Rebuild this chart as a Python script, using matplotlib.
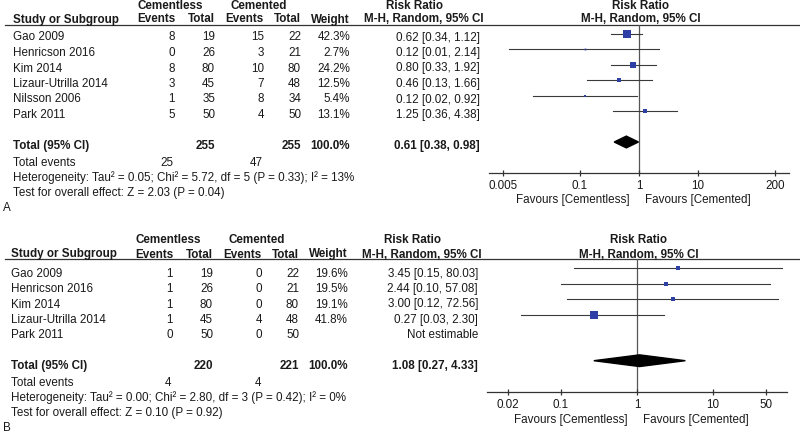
import matplotlib
matplotlib.use("Agg")
import matplotlib.pyplot as plt
import numpy as np

plt.rcParams['font.family'] = ['Liberation Sans', 'DejaVu Sans']

# ---------------- data: panel A ----------------
studies_A = ["Gao 2009", "Henricson 2016", "Kim 2014", "Lizaur-Utrilla 2014", "Nilsson 2006", "Park 2011"]
ev_cl_A = [8, 0, 8, 3, 1, 5]
tot_cl_A = [19, 26, 80, 45, 35, 50]
ev_cm_A = [15, 3, 10, 7, 8, 4]
tot_cm_A = [22, 21, 80, 48, 34, 50]
weight_A = [42.3, 2.7, 24.2, 12.5, 5.4, 13.1]
rr_A = [0.62, 0.12, 0.80, 0.46, 0.12, 1.25]
lo_A = [0.34, 0.0063, 0.33, 0.13, 0.016, 0.36]
hi_A = [1.12, 2.14, 1.92, 1.66, 0.92, 4.38]
rr_text_A = ["0.62 [0.34, 1.12]", "0.12 [0.01, 2.14]", "0.80 [0.33, 1.92]",
             "0.46 [0.13, 1.66]", "0.12 [0.02, 0.92]", "1.25 [0.36, 4.38]"]
total_A = dict(n_cl=255, n_cm=255, ev_cl=25, ev_cm=47, rr=0.61, lo=0.38, hi=0.98,
               text="0.61 [0.38, 0.98]",
               het="Heterogeneity: Tau\u00b2 = 0.05; Chi\u00b2 = 5.72, df = 5 (P = 0.33); I\u00b2 = 13%",
               test="Test for overall effect: Z = 2.03 (P = 0.04)")
ticks_A = [0.005, 0.1, 1, 10, 200]
ticklabels_A = ["0.005", "0.1", "1", "10", "200"]

# ---------------- data: panel B ----------------
studies_B = ["Gao 2009", "Henricson 2016", "Kim 2014", "Lizaur-Utrilla 2014", "Park 2011"]
ev_cl_B = [1, 1, 1, 1, 0]
tot_cl_B = [19, 26, 80, 45, 50]
ev_cm_B = [0, 0, 0, 4, 0]
tot_cm_B = [22, 21, 80, 48, 50]
weight_B = [19.6, 19.5, 19.1, 41.8, None]
rr_B = [3.45, 2.44, 3.00, 0.27, None]
lo_B = [0.15, 0.10, 0.12, 0.03, None]
hi_B = [80.03, 57.08, 72.56, 2.30, None]
rr_text_B = ["3.45 [0.15, 80.03]", "2.44 [0.10, 57.08]", "3.00 [0.12, 72.56]",
             "0.27 [0.03, 2.30]", "Not estimable"]
total_B = dict(n_cl=220, n_cm=221, ev_cl=4, ev_cm=4, rr=1.08, lo=0.27, hi=4.33,
               text="1.08 [0.27, 4.33]",
               het="Heterogeneity: Tau\u00b2 = 0.00; Chi\u00b2 = 2.80, df = 3 (P = 0.42); I\u00b2 = 0%",
               test="Test for overall effect: Z = 0.10 (P = 0.92)")
ticks_B = [0.02, 0.1, 1, 10, 50]
ticklabels_B = ["0.02", "0.1", "1", "10", "50"]

W, H = 800, 434
fig = plt.figure(figsize=(8, 4.34), dpi=100)
ov = fig.add_axes([0, 0, 1, 1])
ov.set_xlim(0, W)
ov.set_ylim(H, 0)
ov.axis('off')

TXT = '#1a1a1a'
FS = 8.35
BLUE = '#2E40A6'
LINE = '#3a3a3a'


def t(x, y, s, ha='left', bold=False):
    ov.text(x, y, s, ha=ha, va='baseline', fontsize=FS, color=TXT,
            fontweight='bold' if bold else 'normal')


def panel(studies, ev_cl, tot_cl, ev_cm, tot_cm, weight, rr, lo, hi, rr_text, total,
          ticks, ticklabels, letter, L):
    x0 = L['dx']
    hb1, hb2 = L['h1'], L['h2']
    t(170.7 + x0, hb1, "Cementless", ha='center', bold=True)
    t(258.5 + x0, hb1, "Cemented", ha='center', bold=True)
    t(415 + x0, hb1, "Risk Ratio", ha='center', bold=True)
    t(L['fc'], hb1, "Risk Ratio", ha='center', bold=True)
    t(L['sx'], hb2, "Study or Subgroup", bold=True)
    cols = [175 + x0, 215 + x0, 264 + x0, 301 + x0, 350 + x0]
    for cx, s in zip(cols, ["Events", "Total", "Events", "Total", "Weight"]):
        t(cx, hb2, s, ha='right', bold=True)
    t(424 + x0, hb2, "M-H, Random, 95% CI", ha='center', bold=True)
    t(L['fc'] + 1, hb2, "M-H, Random, 95% CI", ha='center', bold=True)
    ov.plot([5, 800], [L['ul'], L['ul']], color='#333333', lw=0.9)

    rrx = 480 + x0
    for i, name in enumerate(studies):
        yb = L['b0'] + L['sp'] * i
        t(L['sx'], yb, name)
        t(cols[0], yb, str(ev_cl[i]), ha='right')
        t(cols[1], yb, str(tot_cl[i]), ha='right')
        t(cols[2], yb, str(ev_cm[i]), ha='right')
        t(cols[3], yb, str(tot_cm[i]), ha='right')
        if weight[i] is not None:
            t(cols[4], yb, "%.1f%%" % weight[i], ha='right')
        t(rrx, yb, rr_text[i], ha='right')
    n = len(studies)
    yt = L['b0'] + L['sp'] * (n + 1)
    t(L['sx'], yt, "Total (95% CI)", bold=True)
    t(cols[1], yt, str(total['n_cl']), ha='right', bold=True)
    t(cols[3], yt, str(total['n_cm']), ha='right', bold=True)
    t(cols[4], yt, "100.0%", ha='right', bold=True)
    t(rrx, yt, total['text'], ha='right', bold=True)
    ye = yt + 16.5
    t(L['sx'], ye, "Total events")
    t(cols[0] - 2, ye, str(total['ev_cl']), ha='right')
    t(cols[2] - 1, ye, str(total['ev_cm']), ha='right')
    t(L['sx'], ye + 15.5, total['het'])
    t(L['sx'], ye + 30.5, total['test'])
    t(3, ye + 45.5, letter)

    fl, fr, ftop, fbot = L['fl'], L['fr'], L['ul'], L['axis']
    ax = fig.add_axes([fl / W, 1 - fbot / H, (fr - fl) / W, (fbot - ftop) / H])
    ax.set_xscale('log')
    ax.set_xlim(L['xlim'])
    r_top = (ftop - L['r0']) / L['rsp']
    r_bot = (fbot - L['r0']) / L['rsp']
    ax.set_ylim(r_bot, r_top)
    ax.patch.set_alpha(0)
    for s in ['left', 'right', 'top']:
        ax.spines[s].set_visible(False)
    ax.spines['bottom'].set_color('#333333')
    ax.spines['bottom'].set_linewidth(0.9)
    ax.set_yticks([])
    ax.set_xticks(ticks)
    ax.set_xticklabels(ticklabels)
    ax.xaxis.set_minor_locator(matplotlib.ticker.NullLocator())
    ax.tick_params(axis='x', direction='inout', length=5, width=0.9, color='#333333',
                   labelsize=FS, labelcolor=TXT, pad=3)
    ax.axvline(1, color='#555555', lw=0.9, zorder=1)
    for i in range(n):
        if rr[i] is None:
            continue
        ax.plot([lo[i], hi[i]], [i, i], color=LINE, lw=0.8, zorder=2)
        side = (1.3 + 0.18 * weight[i]) * 0.72
        ax.plot([rr[i]], [i], marker='s', ms=side, color=BLUE, mec=BLUE, mew=0, zorder=3)
    dh = 0.38
    tr = n + 1
    ax.fill([total['lo'], total['rr'], total['hi'], total['rr']],
            [tr, tr - dh, tr, tr + dh], color='black', zorder=3)
    t(L['fav1'], L['fav'], "Favours [Cementless]", ha='right')
    t(L['fav2'], L['fav'], "Favours [Cemented]", ha='left')


LA = dict(dx=0, h1=9.3, h2=22.5, ul=24.5, sx=13, b0=40.5, sp=15.5,
          fl=489, fr=789, axis=172.7, r0=33.5, rsp=15.5, xlim=(10 ** -2.54, 10 ** 2.54),
          fc=640, fav=203.3, fav1=630, fav2=645)
LB = dict(dx=-2, h1=243.3, h2=257.5, ul=259.3, sx=11, b0=276.7, sp=15.4,
          fl=487, fr=787, axis=391.7, r0=268.3, rsp=15.4, xlim=(10 ** -1.974, 10 ** 1.974),
          fc=638, fav=423, fav1=628, fav2=643)

panel(studies_A, ev_cl_A, tot_cl_A, ev_cm_A, tot_cm_A, weight_A, rr_A, lo_A, hi_A,
      rr_text_A, total_A, ticks_A, ticklabels_A, "A", LA)
panel(studies_B, ev_cl_B, tot_cl_B, ev_cm_B, tot_cm_B, weight_B, rr_B, lo_B, hi_B,
      rr_text_B, total_B, ticks_B, ticklabels_B, "B", LB)

fig.savefig("out.png", dpi=100)
